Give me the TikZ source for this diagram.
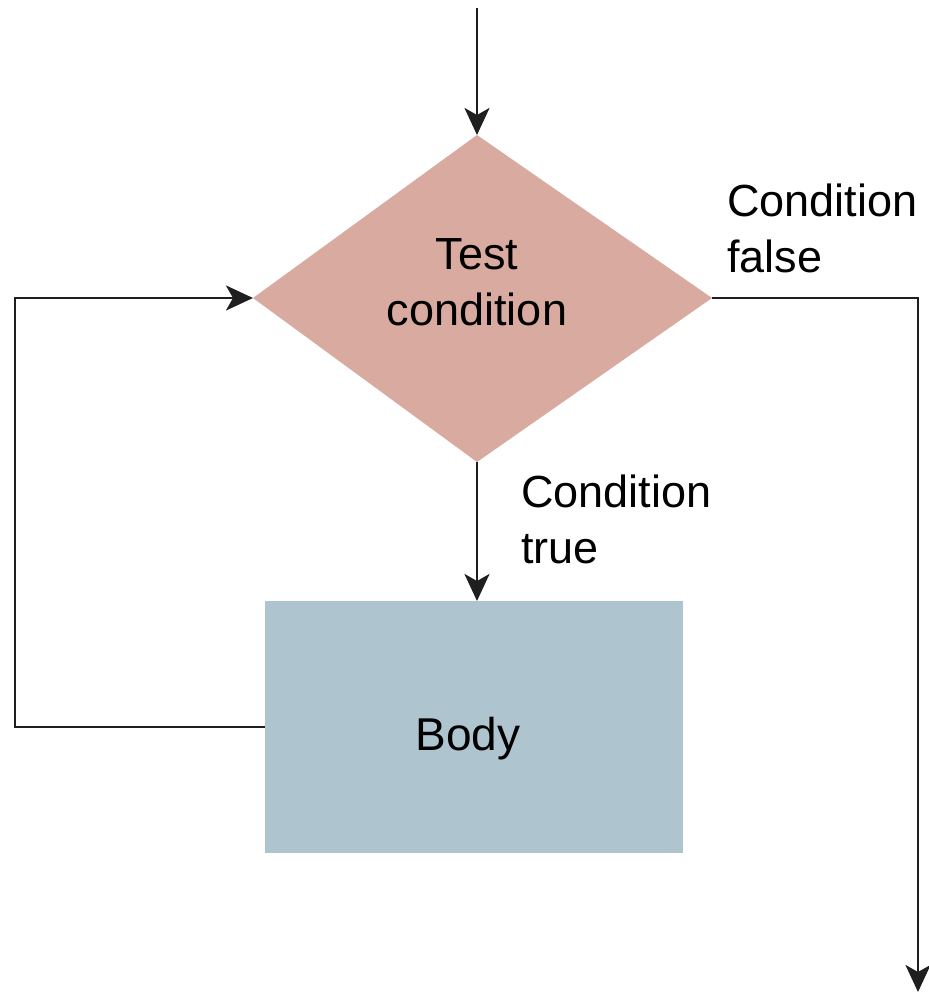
\documentclass[tikz,border=0pt]{standalone}
\usepackage{fontspec}
\setmainfont{Liberation Sans}
\usetikzlibrary{arrows.meta,calc}
\definecolor{diafill}{HTML}{D9AA9F}
\definecolor{boxfill}{HTML}{AEC4CF}
\begin{document}
\begin{tikzpicture}[x=1pt,y=-1pt,
  conn/.style={line width=2.7pt,draw=black!88},
  arr/.style={conn,-{Stealth[length=27pt,width=25pt,inset=7pt]}},
  lbl/.style={inner sep=0pt,align=left,font=\fontsize{45}{56}\selectfont},
  ]
\useasboundingbox (0,0) rectangle (929,996);
% shapes
\coordinate (dT) at (477,135);
\coordinate (dL) at (253,298);
\coordinate (dR) at (712,298);
\coordinate (dB) at (477,462);
\fill[diafill] (dT) -- (dR) -- (dB) -- (dL) -- cycle;
\node[fill=boxfill,minimum width=418pt,minimum height=252pt,inner sep=0pt,anchor=north west] (body) at (265,601) {};
\node[inner sep=0pt,anchor=base,font=\fontsize{46}{56}\selectfont] (bodytxt) at (468,750) {Body};
\node[lbl,align=center,anchor=north] (test) at (477,238) {Test\\condition};
% connectors
\coordinate (start) at (477,8);
\draw[arr] (start) -- (dT);
\draw[arr] (dB) -- (body.north -| dB);
\coordinate (lb) at (15,727);
\coordinate (lt) at (15,298);
\draw[arr] (body.west |- lb) -- (lb) -- (lt) -- (dL);
\coordinate (rt) at (918,298);
\coordinate (rb) at (918,992);
\draw[arr] (dR) -- (rt) -- (rb);
% labels
\node[lbl,anchor=north west] (cf) at (727,184) {Condition\\false};
\node[lbl,anchor=north west] (ct) at (521,475) {Condition\\true};
\end{tikzpicture}
\end{document}
